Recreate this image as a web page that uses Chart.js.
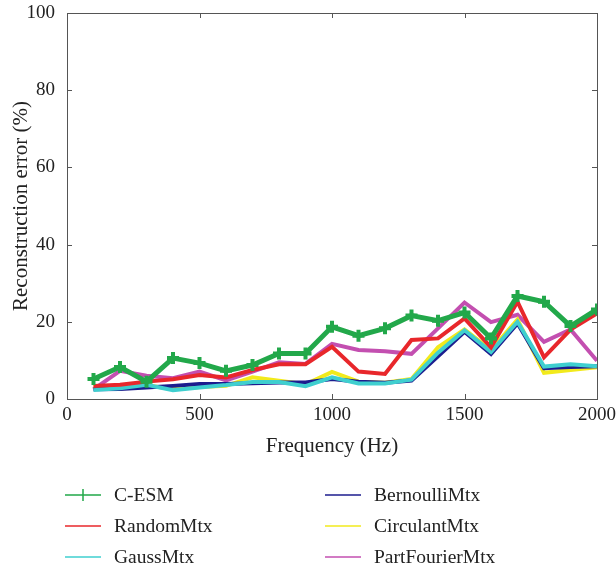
<!DOCTYPE html>
<html>
<head>
<meta charset="utf-8">
<script src="https://cdn.jsdelivr.net/npm/chart.js@4"></script>
<style>
  html, body { margin: 0; padding: 0; background: #fff; }
  #wrap { width: 616px; height: 569px; position: relative; }
</style>
</head>
<body>
<div id="wrap"><canvas id="myChart" width="616" height="569"></canvas></div>
<script>
// frequencies (Hz)
const freqs = [100, 200, 300, 400, 500, 600, 700, 800, 900, 1000,
               1100, 1200, 1300, 1400, 1500, 1600, 1700, 1800, 1900, 2000];

// reconstruction error (%) per method
const cesm        = [5.2, 8.3, 4.5, 10.6, 9.3, 7.3, 8.8, 11.8, 11.8, 18.7, 16.4, 18.3, 21.6, 20.3, 22.4, 15.7, 26.7, 25.2, 18.9, 23.2];
const randomMtx   = [3.4, 3.7, 4.5, 5.1, 6.2, 5.6, 7.5, 9.0, 9.0, 13.5, 7.1, 6.5, 15.3, 15.7, 20.9, 13.4, 25.2, 10.8, 18.0, 22.2];
const gaussMtx    = [2.3, 2.8, 3.7, 2.3, 3.0, 3.6, 4.4, 4.4, 3.3, 5.6, 4.0, 4.0, 5.0, 12.0, 17.8, 12.2, 20.0, 8.4, 9.0, 8.5];
const bernoulli   = [2.5, 2.6, 3.0, 3.4, 3.9, 3.9, 4.1, 4.3, 4.3, 5.2, 4.5, 4.2, 4.8, 11.1, 17.4, 11.7, 19.6, 8.0, 8.3, 8.5];
const circulant   = [3.1, 3.1, 3.6, 2.5, 3.1, 3.4, 5.6, 4.7, 3.8, 7.0, 4.5, 4.2, 5.2, 13.4, 18.0, 12.7, 20.6, 6.8, 7.5, 8.2];
const partFourier = [2.5, 7.3, 6.0, 5.4, 7.1, 4.8, 7.1, 9.5, 9.1, 14.3, 12.7, 12.4, 11.7, 18.3, 25.0, 19.9, 21.8, 14.8, 18.0, 9.9];

const names  = ['C-ESM', 'RandomMtx', 'GaussMtx', 'BernoulliMtx', 'CirculantMtx', 'PartFourierMtx'];
const series = [cesm, randomMtx, gaussMtx, bernoulli, circulant, partFourier];
const colors = ['#22a84a', '#e8272b', '#3fcfcf', '#1c1c8e', '#f2ea1c', '#c34fb0'];

const xTicks = [0, 500, 1000, 1500, 2000];
const yTicks = [0, 20, 40, 60, 80, 100];

const serif = "'Liberation Serif', 'DejaVu Serif', serif";

function pts(arr){
  return arr.map((v, i) => ({x: freqs[i], y: v}));
}

const datasets = names.map((n, i) => ({
  label: n,
  data: pts(series[i]),
  borderColor: colors[i],
  backgroundColor: colors[i],
  borderWidth: i === 0 ? 5 : 4,
  pointStyle: 'cross',
  pointRadius: i === 0 ? 6 : 0,
  pointBorderWidth: 4,
  pointBorderColor: colors[i],
  tension: 0,
  fill: false
}));

// box around the plot + inward tick marks
const boxPlugin = {
  id: 'box',
  afterDraw(chart){
    const c = chart.ctx, a = chart.chartArea;
    const xs = chart.scales.x, ys = chart.scales.y;
    c.save();
    c.strokeStyle = '#555';
    c.lineWidth = 1;
    c.strokeRect(a.left + 0.5, a.top + 0.5, a.right - a.left, a.bottom - a.top);
    c.beginPath();
    xTicks.forEach(t => {
      const px = Math.round(xs.getPixelForValue(t)) + 0.5;
      c.moveTo(px, a.bottom); c.lineTo(px, a.bottom - 5);
      c.moveTo(px, a.top); c.lineTo(px, a.top + 5);
    });
    yTicks.forEach(t => {
      const py = Math.round(ys.getPixelForValue(t)) + 0.5;
      c.moveTo(a.left, py); c.lineTo(a.left + 5, py);
      c.moveTo(a.right, py); c.lineTo(a.right - 5, py);
    });
    c.stroke();
    c.restore();
  }
};

// two-column legend under the axes
const legendPlugin = {
  id: 'legend2',
  afterDraw(chart){
    const c = chart.ctx;
    c.save();
    c.font = "19.5px " + serif;
    c.textBaseline = 'middle';
    c.fillStyle = '#222';
    names.forEach((n, i) => {
      const col = Math.floor(i / 3), row = i % 3;
      const x0 = col === 0 ? 65 : 325;
      const y = 495 + row * 31;
      c.strokeStyle = colors[i];
      c.lineWidth = 1.5;
      c.beginPath();
      c.moveTo(x0, y); c.lineTo(x0 + 36, y);
      if (i === 0) {
        c.moveTo(x0 + 18, y - 6); c.lineTo(x0 + 18, y + 6);
      }
      c.stroke();
      c.fillText(n, x0 + 49, y + 1);
    });
    c.restore();
  }
};

const ctx = document.getElementById('myChart').getContext('2d');
const chart = new Chart(ctx, {
  type: 'line',
  data: { datasets },
  options: {
    responsive: false,
    animation: false,
    layout: { padding: { top: 13, right: 19, bottom: 110, left: 0 } },
    plugins: { legend: { display: false }, tooltip: { enabled: false } },
    scales: {
      x: {
        type: 'linear', min: 0, max: 2000,
        afterBuildTicks: s => { s.ticks = xTicks.map(v => ({value: v})); },
        afterFit: s => { s.height = 60; s.paddingLeft = 0; s.paddingRight = 0; },
        grid: { display: false, drawTicks: false },
        border: { display: false },
        ticks: { color: '#222', font: { family: serif, size: 19 }, padding: 5, maxRotation: 0,
                 callback: v => String(v) },
        title: { display: true, text: 'Frequency (Hz)', color: '#222', font: { family: serif, size: 21 }, padding: { top: 4, bottom: 0 } }
      },
      y: {
        min: 0, max: 100,
        afterBuildTicks: s => { s.ticks = yTicks.map(v => ({value: v})); },
        afterFit: s => { s.width = 67; s.paddingTop = 0; s.paddingBottom = 0; },
        grid: { display: false, drawTicks: false },
        border: { display: false },
        ticks: { color: '#222', font: { family: serif, size: 19 }, padding: 12,
                 callback: v => String(v) },
        title: { display: true, text: 'Reconstruction error (%)', color: '#222', font: { family: serif, size: 21 }, padding: { top: 9, bottom: 4 } }
      }
    }
  },
  plugins: [boxPlugin, legendPlugin]
});
</script>
</body>
</html>
